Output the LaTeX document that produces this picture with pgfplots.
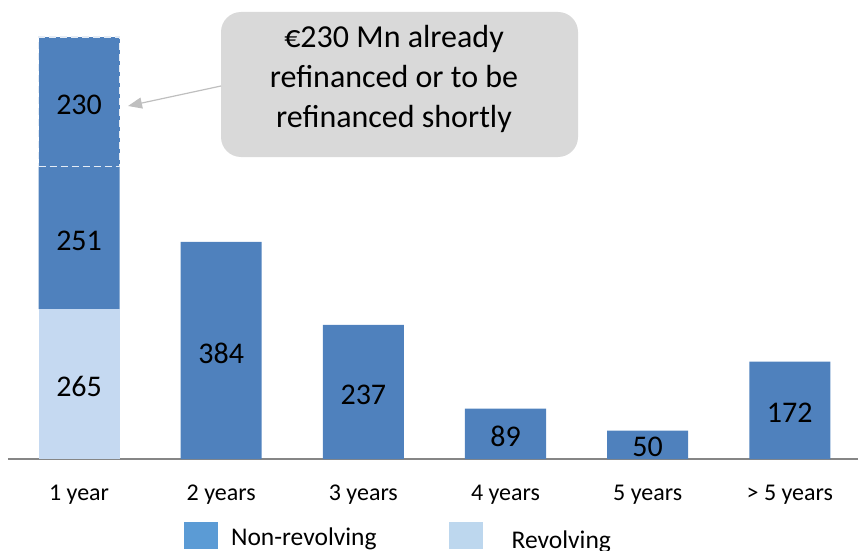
\documentclass[border=0pt]{standalone}
\usepackage{fontspec}
\setmainfont{Carlito}
\usepackage{pgfplots}
\pgfplotsset{compat=1.18}
\usetikzlibrary{arrows.meta}
\definecolor{barblue}{HTML}{4F81BD}
\definecolor{barlight}{HTML}{C5D9F1}
\definecolor{legblue}{HTML}{5B9BD5}
\definecolor{leglight}{HTML}{BDD7EE}
\definecolor{callgray}{HTML}{D9D9D9}
\definecolor{axgray}{HTML}{868686}
\definecolor{arrgray}{HTML}{BFBFBF}
\begin{document}
\begin{tikzpicture}[x=1pt,y=1pt]
\useasboundingbox (0,0) rectangle (858,550);
\begin{axis}[
  at={(8pt,91pt)}, anchor=south west, scale only axis,
  width=850pt, height=452.5pt,
  xmin=-0.5, xmax=5.48, ymin=0, ymax=800,
  ybar stacked, bar width=81pt,
  axis x line=bottom, axis y line=none,
  x axis line style={-, draw=axgray, line width=1.5pt},
  xtick={0,1,2,3,4,5},
  xticklabels={1 year,2 years,3 years,4 years,5 years,{> 5 years}},
  major tick length=0pt,
  xticklabel style={font=\fontsize{24}{28}\selectfont, anchor=base, yshift=-41pt, inner sep=0pt},
  clip=false,
  legend columns=2,
  reverse legend,
  legend style={at={(axis description cs:0.2071,-0.1392)}, anchor=north west,
    draw=none, fill=none, inner sep=0pt, outer sep=0pt,
    font=\fontsize{25.5}{29}\selectfont,
    nodes={inner sep=0pt},
    /tikz/every odd column/.append style={column sep=13pt},
    /tikz/every even column/.append style={column sep=72pt}},
]
\addplot[fill=barlight, draw=none,
  legend image code/.code={\fill[leglight] (0pt,-12pt) rectangle (34pt,15pt);}]
  coordinates {(0,265) (1,0) (2,0) (3,0) (4,0) (5,0)};
\addlegendentry{\raisebox{-7pt}{\hspace{16pt}Revolving}}
\addplot[fill=barblue, draw=none,
  legend image code/.code={\fill[legblue] (0pt,-12pt) rectangle (34pt,15pt);}]
  coordinates {(0,251) (1,384) (2,237) (3,89) (4,50) (5,172)};
\addlegendentry{Non-revolving}
\addplot[forget plot, fill=barblue, draw=white!85!barblue, line width=1.3pt, dash pattern=on 7pt off 4pt]
  coordinates {(0,230)};

\coordinate (a) at (axis cs:0,132.5);
\coordinate (b) at (axis cs:0,390.5);
\coordinate (c) at (axis cs:0,631);
\coordinate (d) at (axis cs:1,192);
\coordinate (e) at (axis cs:2,118.5);
\coordinate (f) at (axis cs:3,44.5);
\coordinate (g) at (axis cs:4,25);
\coordinate (h) at (axis cs:5,86);
\end{axis}
\begin{scope}[every node/.style={font=\fontsize{30}{34}\selectfont, text=black, yshift=-2.5pt}]
\node at (a) {265};
\node at (b) {251};
\node at (c) {230};
\node at (d) {384};
\node at (e) {237};
\node at (f) {89};
\node at (g) {50};
\node at (h) {172};
\end{scope}
\fill[callgray, rounded corners=20pt] (221,393) rectangle (578,538);
\draw[arrgray, line width=1.2pt, -{Triangle[length=14pt,width=11pt]}] (221,464) -- (128,444);
\node[font=\fontsize{32}{39.5}\selectfont, align=center, text=black, anchor=base] at (394,423) {€230 Mn already\\refinanced or to be\\refinanced shortly};
\end{tikzpicture}
\end{document}
